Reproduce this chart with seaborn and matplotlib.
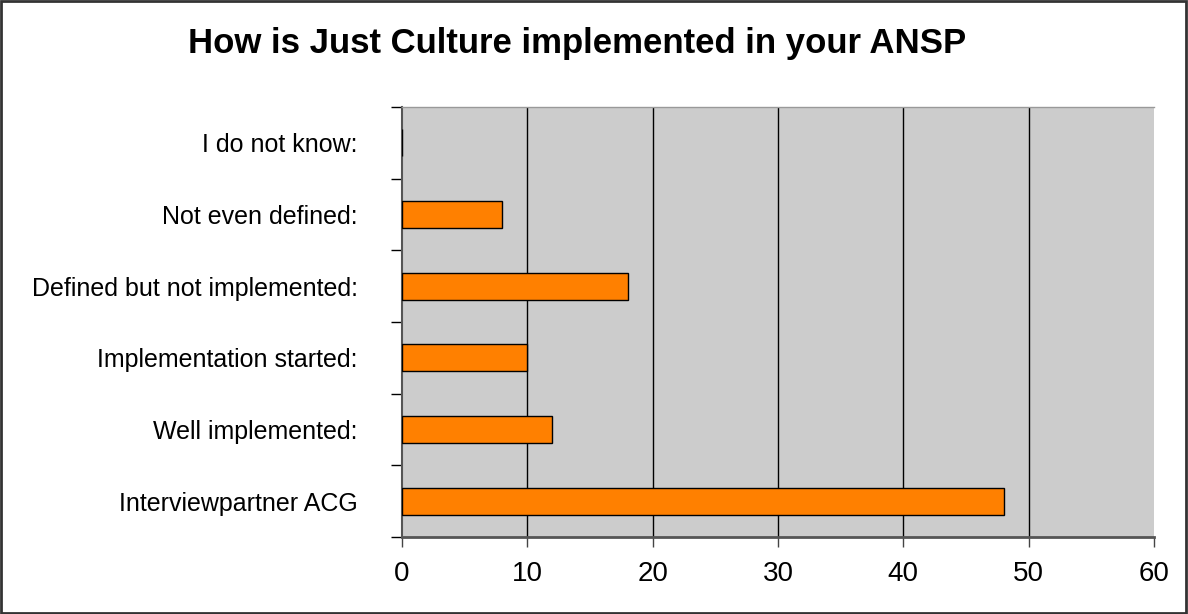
import matplotlib
matplotlib.use("Agg")
import matplotlib.pyplot as plt
from matplotlib.patches import Rectangle
import seaborn as sns
import pandas as pd

categories = [
    "I do not know:",
    "Not even defined:",
    "Defined but not implemented:",
    "Implementation started:",
    "Well implemented:",
    "Interviewpartner ACG",
]
counts = [0, 8, 18, 10, 12, 48]
x_ticks = [0, 10, 20, 30, 40, 50, 60]
title = "How is Just Culture implemented in your ANSP"

sns.set_theme(style="white")
plt.rcParams["font.family"] = ["Liberation Sans", "DejaVu Sans"]

df = pd.DataFrame({"category": categories, "count": counts})

fig = plt.figure(figsize=(11.88, 6.14), dpi=100)
ax = fig.add_axes([402 / 1188, 1 - 537 / 614, (1154 - 402) / 1188, (537 - 107) / 614])
ax.set_facecolor("#CCCCCC")

sns.barplot(data=df, x="count", y="category", order=categories, orient="h",
            color="#FF8000", saturation=1, width=0.38, edgecolor="black",
            linewidth=1.0, ax=ax, zorder=3)

ax.set_xlim(0, 60)
ax.set_xticks(x_ticks)
ax.set_xticklabels([str(t) for t in x_ticks])
ax.set_ylim(len(categories) - 0.5, -0.5)
ax.set_xlabel("")
ax.set_ylabel("")

# vertical grid lines at each major x tick
for t in x_ticks[1:-1]:
    ax.axvline(t, color="black", linewidth=1.0, zorder=1)

# category separators as outward minor ticks
ax.set_yticks([i - 0.5 for i in range(len(categories) + 1)], minor=True)
ax.tick_params(axis="y", which="major", length=0, pad=32, labelsize=18)
ax.tick_params(axis="y", which="minor", length=8, width=1, color="black", direction="out", left=True)
ax.tick_params(axis="x", which="major", length=7.5, width=1, color="#444444",
               direction="out", bottom=True, pad=10, labelsize=20)

for lbl in ax.get_yticklabels():
    lbl.set_color("black")
for lbl in ax.get_xticklabels():
    lbl.set_color("black")

ax.spines["left"].set_color("#555555")
ax.spines["left"].set_linewidth(1.5)
ax.spines["bottom"].set_color("#555555")
ax.spines["bottom"].set_linewidth(2)
ax.spines["top"].set_color("#999999")
ax.spines["top"].set_linewidth(1)
ax.spines["right"].set_visible(False)

fig.text(577 / 1188, 1 - 43 / 614, title, ha="center", va="center",
         fontsize=25, fontweight="bold", color="black")

fig.patches.append(Rectangle((0.001, 0.002), 0.997, 0.996, transform=fig.transFigure,
                             fill=False, edgecolor="#333333", linewidth=2))

fig.savefig("out.png", dpi=100, facecolor="white")
